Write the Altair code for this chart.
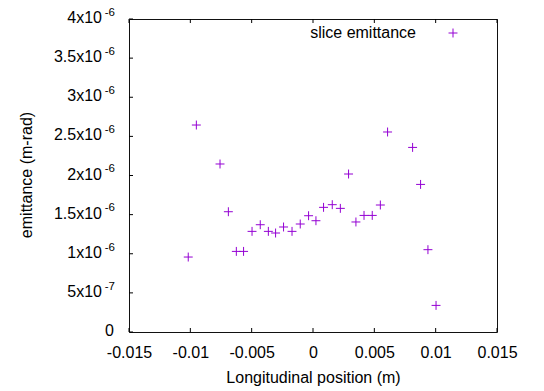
import altair as alt
import pandas as pd

# data
pos = [-0.01017, -0.00951, -0.00758, -0.0069, -0.00625, -0.00566, -0.00497, -0.0043,
       -0.00364, -0.00305, -0.0024, -0.00171, -0.00104, -0.00036, 0.00024, 0.00086,
       0.00157, 0.00223, 0.0029, 0.0035, 0.00416, 0.00483, 0.00549, 0.00608,
       0.00812, 0.00877, 0.00937, 0.01003]
emit = [0.958e-6, 2.645e-6, 2.147e-6, 1.537e-6, 1.030e-6, 1.030e-6, 1.286e-6, 1.371e-6,
        1.286e-6, 1.265e-6, 1.342e-6, 1.286e-6, 1.380e-6, 1.486e-6, 1.422e-6, 1.593e-6,
        1.627e-6, 1.580e-6, 2.019e-6, 1.406e-6, 1.490e-6, 1.490e-6, 1.623e-6, 2.556e-6,
        2.359e-6, 1.886e-6, 1.052e-6, 0.340e-6]

x_ticks = [-0.015, -0.01, -0.005, 0.0, 0.005, 0.01, 0.015]
y_ticks = [0.0, 5e-7, 1e-6, 1.5e-6, 2e-6, 2.5e-6, 3e-6, 3.5e-6, 4e-6]
y_mant = ["0", "5", "1", "1.5", "2", "2.5", "3", "3.5", "4"]
y_exp = ["", "-7", "-6", "-6", "-6", "-6", "-6", "-6", "-6"]

series_name = "slice emittance"
x_title = "Longitudinal position (m)"
y_title = "emittance (m-rad)"

W, H = 368, 313
FONT = "Liberation Sans"
PURPLE = "#9400D3"
PLUS = "M-1,0L1,0M0,-1L0,1"

pts = pd.DataFrame({"x": pos, "y": emit})
xt = pd.DataFrame({"x": x_ticks})
yt = pd.DataFrame({"y": y_ticks, "m": y_mant, "e": y_exp})

xscale = alt.Scale(domain=[-0.015, 0.015], nice=False, zero=False)
yscale = alt.Scale(domain=[0, 4e-6], nice=False, zero=False)

xaxis = alt.Axis(
    values=x_ticks, labelExpr="toString(datum.value)", ticks=False, tickSize=0,
    domain=False, grid=False, labelPadding=12, labelFontSize=16, labelFont=FONT,
    labelColor="#000", labelOverlap=False, labelFlush=False, labelBound=False,
    title=x_title, titleFont=FONT, titleFontSize=16,
    titleFontWeight="normal", titleColor="#000", titleY=50.5, titleBaseline="alphabetic")
X = alt.X("x:Q", scale=xscale, axis=xaxis, title=x_title)
Y = alt.Y("y:Q", scale=yscale, axis=None)

points = alt.Chart(pts).mark_point(shape=PLUS, size=80, filled=False,
                                   stroke=PURPLE, strokeWidth=1, opacity=1).encode(x=X, y=Y)

bottom_ticks = alt.Chart(xt).mark_rule(color="#000", strokeWidth=1).encode(
    x=X, y=alt.value(H), y2=alt.value(H - 4))
top_ticks = alt.Chart(xt).mark_rule(color="#000", strokeWidth=1).encode(
    x=X, y=alt.value(0), y2=alt.value(4))
left_ticks = alt.Chart(yt).mark_rule(color="#000", strokeWidth=1).encode(
    y=Y, x=alt.value(0), x2=alt.value(4))

mant = alt.Chart(yt).transform_filter("datum.e != ''").transform_calculate(
    lab="datum.m + 'x10'").mark_text(
    align="right", baseline="middle", fontSize=16, font=FONT, color="#000", dy=-1
).encode(y=Y, x=alt.value(-27), text="lab:N")
zero_lab = alt.Chart(yt).transform_filter("datum.e == ''").mark_text(
    align="right", baseline="middle", fontSize=16, font=FONT, color="#000", dy=-1.5
).encode(y=Y, x=alt.value(-15), text="m:N")
exps = alt.Chart(yt).transform_filter("datum.e != ''").mark_text(
    align="right", baseline="middle", fontSize=11.5, font=FONT, color="#000", dy=-6.2
).encode(y=Y, x=alt.value(-14), text="e:N")

ytitle = alt.Chart(pd.DataFrame({"t": [y_title]})).mark_text(
    angle=270, align="center", baseline="middle", fontSize=16, font=FONT, color="#000"
).encode(x=alt.value(-102), y=alt.value(156), text="t:N")

leg_text = alt.Chart(pd.DataFrame({"t": [series_name]})).mark_text(
    align="right", baseline="middle", fontSize=16, font=FONT, color="#000"
).encode(x=alt.value(287), y=alt.value(14), text="t:N")
leg_mark = alt.Chart(pd.DataFrame({"t": [series_name]})).mark_point(
    shape=PLUS, size=80, filled=False, stroke=PURPLE, strokeWidth=1, opacity=1
).encode(x=alt.value(324), y=alt.value(14))

chart = alt.layer(points, bottom_ticks, top_ticks, left_ticks, mant, zero_lab, exps,
                  ytitle, leg_text, leg_mark).properties(
    width=W, height=H,
    autosize=alt.AutoSizeParams(type="none"),
    padding={"left": 121, "top": 11, "right": 30, "bottom": 56},
    background="white",
).configure_view(stroke="#111", strokeWidth=1)

chart.save("out.html", embed_options={"renderer": "svg", "actions": False})
